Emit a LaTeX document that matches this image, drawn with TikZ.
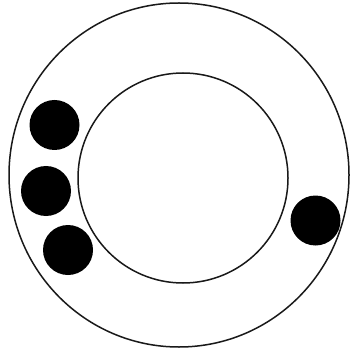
\documentclass[tikz,border=0pt]{standalone}
\begin{document}
\begin{tikzpicture}[x=1pt,y=-1pt,
  ring/.style={draw=black!90,line width=1.5pt},
  ball/.style={fill=black}]
\useasboundingbox (0,0) rectangle (350,352);
\fill[white] (0,0) rectangle (350,352);
\draw[ring] (179,175) ellipse [x radius=170, y radius=172];
\draw[ring] (183,178) circle [radius=105];
\fill[ball] (54.5,125) circle [radius=25];
\fill[ball] (46,191) circle [radius=25];
\fill[ball] (68,250) circle [radius=25];
\fill[ball] (315.5,220.5) circle [radius=25];
\end{tikzpicture}
\end{document}
